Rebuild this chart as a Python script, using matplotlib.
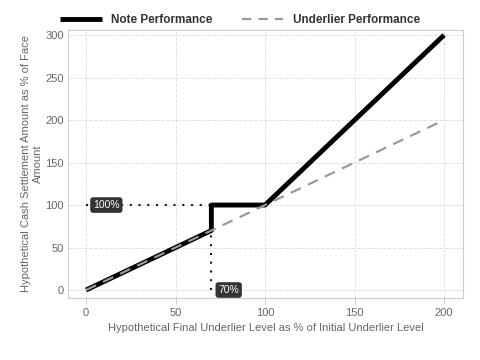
import matplotlib
matplotlib.use("Agg")
import matplotlib.pyplot as plt

plt.rcParams['font.family'] = ['Liberation Sans', 'DejaVu Sans']

note_x = [0, 70, 70, 100, 200]
note_y = [0, 70, 100, 100, 300]
under_x = [0, 200]
under_y = [0, 200]
barrier = 70
face = 100
xticks = [0, 50, 100, 150, 200]
yticks = [0, 50, 100, 150, 200, 250, 300]

fig = plt.figure(figsize=(4.8, 3.6), dpi=100)
ax = fig.add_axes([68/480, 1-298/360, 395/480, 268/360])

gc = '#dde1e6'
ax.grid(True, color=gc, linestyle='--', linewidth=0.7)
ax.set_axisbelow(True)
for s in ax.spines.values():
    s.set_color('#c8ced6')
    s.set_linewidth(0.8)

ax.plot(note_x, note_y, color='black', linewidth=3.5, label='Note Performance', solid_capstyle='butt', zorder=3)
ax.plot(under_x, under_y, color='#999999', linewidth=1.6, linestyle=(0, (5, 3.5)), label='Underlier Performance', zorder=4)

ax.plot([0, barrier], [face, face], color='#1a1a2e', linestyle=(0, (1, 3.2)), linewidth=1.5, zorder=2)
ax.plot([barrier, barrier], [0, barrier], color='#1a1a2e', linestyle=(0, (1, 3.2)), linewidth=1.5, zorder=2)

bbox = dict(boxstyle='round,pad=0.2', fc='#333333', ec='#333333')
ax.annotate('100%', (0, face), xytext=(5, 0), textcoords='offset points', va='center', ha='left',
            color='white', fontsize=7.5, bbox=bbox, zorder=5)
ax.annotate('70%', (barrier, 0), xytext=(5, 0), textcoords='offset points', va='center', ha='left',
            color='white', fontsize=7.5, bbox=bbox, zorder=5)

ax.set_xlim(-10.1, 210.6)
ax.set_ylim(-9.4, 306)
ax.set_xticks(xticks)
ax.set_yticks(yticks)
ax.tick_params(axis='x', length=4, width=0.8, colors='#666666', labelsize=8, pad=3)
ax.tick_params(axis='x', color='#c8ced6')
ax.tick_params(axis='y', length=0, colors='#666666', labelsize=8, pad=3)
ax.set_xlabel('Hypothetical Final Underlier Level as % of Initial Underlier Level', color='#666666', fontsize=8, labelpad=4)
ax.set_ylabel('Hypothetical Cash Settlement Amount as % of Face\nAmount', color='#666666', fontsize=8,
              labelpad=2, linespacing=1.25)

leg = fig.legend(loc='upper center', bbox_to_anchor=(0.50, 0.99), ncol=2, frameon=False,
                 prop={'weight': 'bold', 'size': 8.5}, handlelength=3.5, columnspacing=2.5)
for t in leg.get_texts():
    t.set_color('#333333')
leg.legend_handles[1].set_linestyle((0, (4.2, 3.2)))

fig.savefig('out.png', dpi=100)
